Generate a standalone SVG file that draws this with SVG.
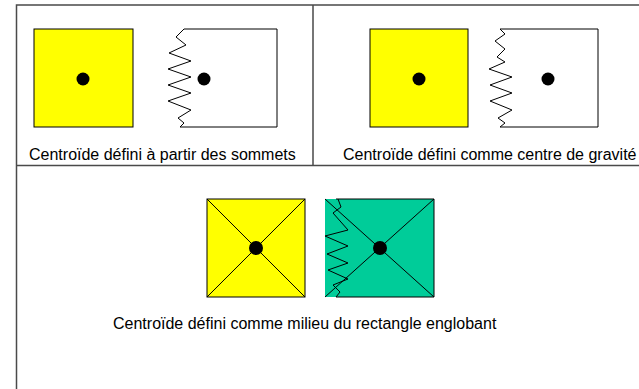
<svg xmlns="http://www.w3.org/2000/svg" width="639" height="389" viewBox="0 0 639 389">
<style>
.frame{stroke:#4a4a4a;stroke-width:1.5;fill:none}
.yel{fill:#ffff00;stroke:#000;stroke-width:1}
.wht{fill:#ffffff;stroke:#000;stroke-width:1}
.grn{fill:#00cc99;stroke:none}
.ln{fill:none;stroke:#000;stroke-width:1}
.dot{fill:#000}
.lbl{font-family:"Liberation Sans",Arial,sans-serif;font-size:16px;fill:#000}
</style>
<rect width="639" height="389" fill="#fff"/>
<g id="frame">
<path class="frame" d="M16.5,389 V5 H639 M313,5 V165 M16.5,165.5 H639"/>
</g>
<g id="panel-sommets">
<rect class="yel" x="34" y="29" width="99" height="98"/>
<circle class="dot" cx="83" cy="79" r="6.5"/>
<path class="wht" d="M184,29 H277 V127 H180 L184,123 L178,118 L191,110 L168,101 L191,93 L168,85 L191,77 L168,69 L191,61 L169,53 L186,45 L176,37 Z"/>
<circle class="dot" cx="204" cy="79" r="6.5"/>
<text class="lbl" x="29" y="160">Centroïde défini à partir des sommets</text>
</g>
<g id="panel-gravite">
<rect class="yel" x="370" y="29" width="98" height="98"/>
<circle class="dot" cx="419" cy="79" r="6.5"/>
<path class="wht" d="M500,29 H598 V127 H500 L505,123 L498,118 L512,110 L490,101 L512,93 L490,85 L512,77 L489,69 L505,62 L497,57 L505,49 L495,41 L505,34 Z"/>
<circle class="dot" cx="548" cy="79" r="6.5"/>
<text class="lbl" x="343" y="160">Centroïde défini comme centre de gravité</text>
</g>
<g id="panel-rectangle">
<rect class="yel" x="207" y="199" width="98" height="98" stroke="#333"/>
<path class="ln" d="M207,199 L305,297 M305,199 L207,297"/>
<circle class="dot" cx="256" cy="248" r="7"/>
<rect class="grn" x="325" y="199" width="109" height="98"/>
<path class="ln" d="M336,199 H434 V297 H336" stroke="#333"/>
<path class="ln" d="M325,199 L434,297 M434,199 L325,297"/>
<path class="ln" d="M338,199 L341,207 L333,213 L348,230 L325,236 L348,246 L327,254 L348,263 L328,270 L348,279 L333,285 L340,292 L336,297"/>
<circle class="dot" cx="380" cy="248" r="7"/>
<text class="lbl" x="113" y="329">Centroïde défini comme milieu du rectangle englobant</text>
</g>
</svg>
